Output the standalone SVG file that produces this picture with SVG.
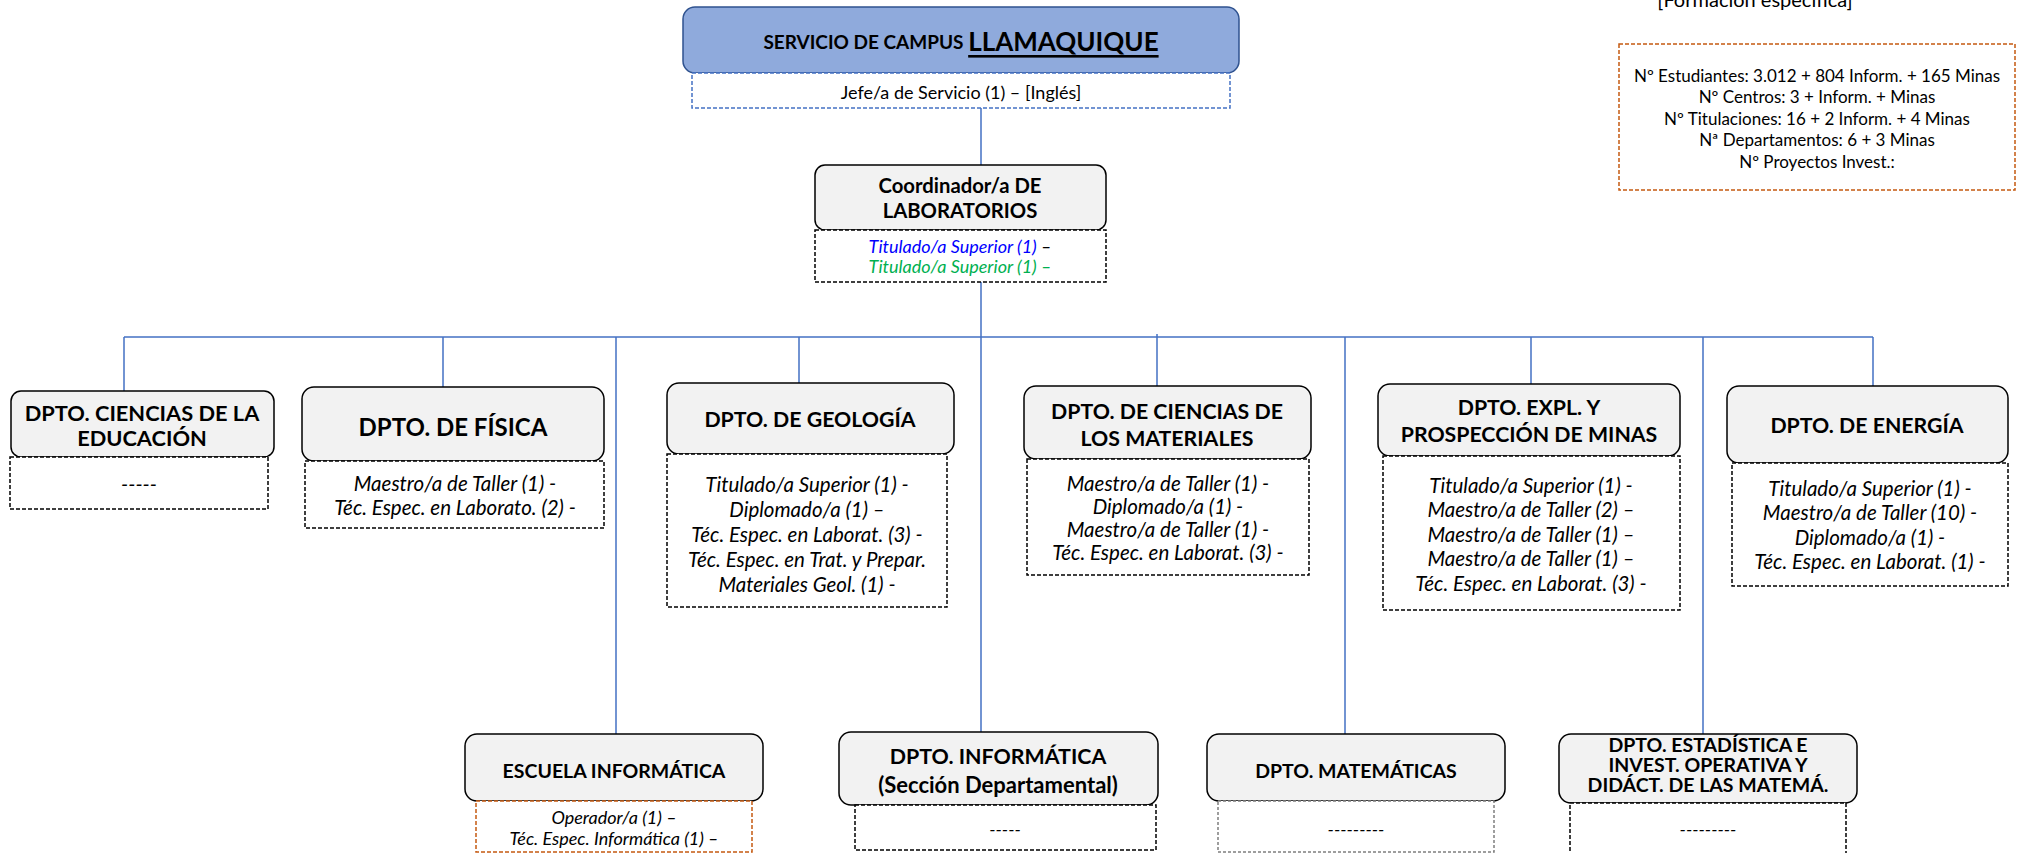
<svg xmlns="http://www.w3.org/2000/svg" width="2018" height="853" viewBox="0 0 2018 853">
<defs>
<style>
text{font-family:Lato,"Open Sans","Liberation Sans",sans-serif;fill:#000;text-anchor:middle;dominant-baseline:central}
.hd{fill:#f2f2f2;stroke:#000;stroke-width:1.5}
.ds{fill:#fff;stroke:#000;stroke-width:1.5;stroke-dasharray:4 2}
.do{fill:#fff;stroke:#c55a11;stroke-width:1.5;stroke-dasharray:4 2}
.db{fill:#fff;stroke:#4472c4;stroke-width:1.5;stroke-dasharray:4 2}
.dg{fill:#fff;stroke:#7f7f7f;stroke-width:1.5;stroke-dasharray:3 2}
.t{font-weight:bold;font-size:21.3px}
.i{font-style:italic;font-size:20.5px}
.r{font-size:17px}
.blue{fill:#0000ff}
.green{fill:#00b050}
.cn{stroke:#4472c4;stroke-width:1.5;fill:none}
</style>
</defs>
<rect width="2018" height="853" fill="#fff"/>

<g id="connectors">
<path class="cn" d="M981 108V165 M981 282V732 M124 337H1873 M124 337V391 M443 337V387 M799 337V383 M1157 334V386 M1531 337V384 M1873 337V386 M616 337V734 M1345 337V734 M1703 337V734"/>
</g>

<g id="info">
<text x="1755" y="-1" style="font-size:20px">[Formación específica]</text>
<rect class="do" x="1619" y="44" width="396" height="146"/>
<text class="r" x="1817" y="75">Nº Estudiantes: 3.012 + 804 Inform. + 165 Minas</text>
<text class="r" x="1817" y="96">Nº Centros: 3 + Inform. +  Minas</text>
<text class="r" x="1817" y="118">Nº Titulaciones: 16 + 2 Inform. + 4 Minas</text>
<text class="r" x="1817" y="139">Nª Departamentos: 6 + 3 Minas</text>
<text class="r" x="1817" y="161">Nº Proyectos Invest.:</text>
</g>

<g id="servicio">
<rect x="683" y="7" width="556" height="66" rx="12" fill="#8faadc" stroke="#2f528f" stroke-width="1.5"/>
<text x="961" y="41"><tspan style="font-weight:bold;font-size:19px">SERVICIO DE CAMPUS </tspan><tspan style="font-weight:bold;font-size:26px;text-decoration:underline">LLAMAQUIQUE</tspan></text>
<rect class="db" x="692" y="73" width="538" height="35"/>
<text x="961" y="92" style="font-size:18px">Jefe/a de Servicio (1) – [Inglés]</text>
</g>

<g id="coordinador">
<rect class="hd" x="815" y="165" width="291" height="65" rx="10"/>
<text class="t" x="960" y="185" style="font-size:20.3px">Coordinador/a DE</text>
<text class="t" x="960" y="210" style="font-size:20.3px">LABORATORIOS</text>
<rect class="ds" x="815" y="230" width="291" height="52"/>
<text class="i" x="960" y="246" style="font-size:18px"><tspan class="blue">Titulado/a Superior (1)</tspan> –</text>
<text class="i green" x="960" y="266" style="font-size:18px">Titulado/a Superior (1) –</text>
</g>

<g id="ciencias-educacion">
<rect class="hd" x="11" y="391" width="263" height="66" rx="10"/>
<text class="t" x="142" y="412" style="font-size:21.8px">DPTO. CIENCIAS DE LA</text>
<text class="t" x="142" y="437" style="font-size:21.8px">EDUCACIÓN</text>
<rect class="ds" x="10" y="457" width="258" height="52"/>
<text class="i" x="139" y="484">-----</text>
</g>

<g id="fisica">
<rect class="hd" x="302" y="387" width="302" height="74" rx="12"/>
<text class="t" x="453" y="426" style="font-size:24px">DPTO. DE FÍSICA</text>
<rect class="ds" x="305" y="461" width="299" height="67"/>
<text class="i" x="455" y="483">Maestro/a de Taller (1) -</text>
<text class="i" x="455" y="507">Téc. Espec. en Laborato. (2) -</text>
</g>

<g id="geologia">
<rect class="hd" x="667" y="383" width="287" height="71" rx="12"/>
<text class="t" x="810" y="419">DPTO. DE GEOLOGÍA</text>
<rect class="ds" x="667" y="454" width="280" height="153"/>
<text class="i" x="807" y="484">Titulado/a Superior (1) -</text>
<text class="i" x="807" y="509">Diplomado/a (1) –</text>
<text class="i" x="807" y="534">Téc. Espec. en Laborat. (3) -</text>
<text class="i" x="807" y="559">Téc. Espec. en Trat. y Prepar.</text>
<text class="i" x="807" y="584">Materiales Geol. (1) -</text>
</g>

<g id="materiales">
<rect class="hd" x="1024" y="386" width="287" height="73" rx="12"/>
<text class="t" x="1167" y="411">DPTO. DE CIENCIAS DE</text>
<text class="t" x="1167" y="438">LOS MATERIALES</text>
<rect class="ds" x="1027" y="459" width="282" height="116"/>
<text class="i" x="1168" y="483">Maestro/a de Taller (1) -</text>
<text class="i" x="1168" y="506">Diplomado/a (1) -</text>
<text class="i" x="1168" y="529">Maestro/a de Taller (1) -</text>
<text class="i" x="1168" y="552">Téc. Espec. en Laborat. (3) -</text>
</g>

<g id="minas">
<rect class="hd" x="1378" y="384" width="302" height="72" rx="12"/>
<text class="t" x="1529" y="407">DPTO. EXPL. Y</text>
<text class="t" x="1529" y="434">PROSPECCIÓN DE MINAS</text>
<rect class="ds" x="1383" y="456" width="297" height="154"/>
<text class="i" x="1531" y="485">Titulado/a Superior (1) -</text>
<text class="i" x="1531" y="509">Maestro/a de Taller (2) –</text>
<text class="i" x="1531" y="534">Maestro/a de Taller (1) –</text>
<text class="i" x="1531" y="558">Maestro/a de Taller (1) –</text>
<text class="i" x="1531" y="583">Téc. Espec. en Laborat. (3) -</text>
</g>

<g id="energia">
<rect class="hd" x="1727" y="386" width="281" height="77" rx="12"/>
<text class="t" x="1867" y="425">DPTO. DE ENERGÍA</text>
<rect class="ds" x="1732" y="463" width="276" height="123"/>
<text class="i" x="1870" y="488">Titulado/a Superior (1) -</text>
<text class="i" x="1870" y="512">Maestro/a de Taller (10) -</text>
<text class="i" x="1870" y="537">Diplomado/a (1) -</text>
<text class="i" x="1870" y="561">Téc. Espec. en Laborat. (1) -</text>
</g>

<g id="escuela-informatica">
<rect class="hd" x="465" y="734" width="298" height="67" rx="12"/>
<text class="t" x="614" y="770" style="font-size:19.5px">ESCUELA INFORMÁTICA</text>
<rect class="do" x="476" y="801" width="276" height="51"/>
<text class="i" x="614" y="817" style="font-size:18px">Operador/a (1) –</text>
<text class="i" x="614" y="838" style="font-size:18px">Téc. Espec. Informática (1) –</text>
</g>

<g id="dpto-informatica">
<rect class="hd" x="839" y="732" width="319" height="73" rx="12"/>
<text class="t" x="998" y="756" style="font-size:21.4px">DPTO. INFORMÁTICA</text>
<text class="t" x="998" y="784" style="font-size:22px">(Sección Departamental)</text>
<rect class="ds" x="855" y="805" width="301" height="45"/>
<text class="i" x="1005" y="829" style="font-size:18px">-----</text>
</g>

<g id="matematicas">
<rect class="hd" x="1207" y="734" width="298" height="67" rx="12"/>
<text class="t" x="1356" y="770" style="font-size:19.5px">DPTO. MATEMÁTICAS</text>
<rect class="dg" x="1218" y="801" width="276" height="51"/>
<text class="i" x="1356" y="829" style="font-size:18px">---------</text>
</g>

<g id="estadistica">
<rect class="hd" x="1559" y="734" width="298" height="69" rx="12"/>
<text class="t" x="1708" y="744" style="font-size:19.5px">DPTO. ESTADÍSTICA E</text>
<text class="t" x="1708" y="764" style="font-size:19.5px">INVEST. OPERATIVA  Y</text>
<text class="t" x="1708" y="784" style="font-size:19.5px">DIDÁCT. DE LAS MATEMÁ.</text>
<rect class="ds" x="1570" y="803" width="276" height="60"/>
<text class="i" x="1708" y="829" style="font-size:18px">---------</text>
</g>
</svg>
